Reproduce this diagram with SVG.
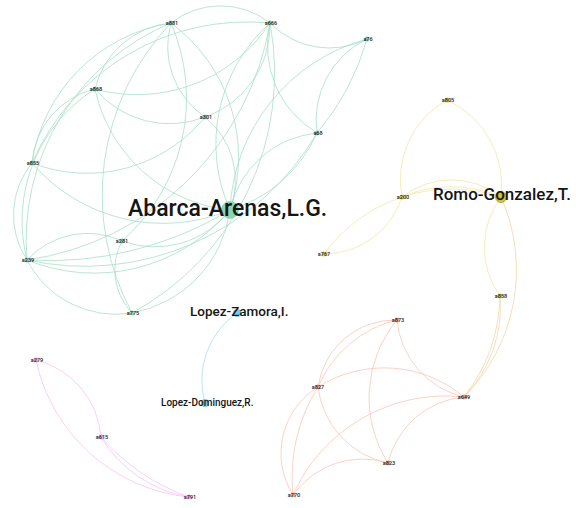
<svg xmlns="http://www.w3.org/2000/svg" width="576" height="508" viewBox="0 0 576 508">
<style>
.e{fill:none;stroke-width:0.8}
.g{stroke:#a9dec9}
.y{stroke:#f3e6ab}
.yo{stroke:#f6d6a8}
.o{stroke:#fac6b6}
.p{stroke:#f8c4f1}
.c{stroke:#a8dcf2}
.sl{font-family:Roboto,"Liberation Sans",sans-serif;font-size:5.5px;fill:#222;text-anchor:middle;font-weight:500}
.bl{font-family:Roboto,"Liberation Sans",sans-serif;fill:#151515;font-weight:500}
.ng{fill:#8fd6b4}
.ny{fill:#d8d044}
.no{fill:#f4a486}
.np{fill:#f0a4e6}
.nc{fill:#7cc8ea}
</style>
<rect width="576" height="508" fill="#fff"/>
<g id="connectors">
<!-- green cluster -->
<path class="e g" d="M171 23 A167 167 0 0 1 230 210"/>
<path class="e g" d="M270 23 A162 162 0 0 0 230 210"/>
<path class="e g" d="M367 39 A186 186 0 0 0 230 210"/>
<path class="e g" d="M95 89 A154 154 0 0 0 230 210"/>
<path class="e g" d="M205 117 A82 82 0 0 1 230 210"/>
<path class="e g" d="M317 133 A99 99 0 0 0 230 210"/>
<path class="e g" d="M317 133 A140 140 0 0 1 230 210"/>
<path class="e g" d="M32 163 A173 173 0 0 0 230 210"/>
<path class="e g" d="M122 241 A95 95 0 0 0 230 210"/>
<path class="e g" d="M27 260 A178 178 0 0 0 230 210"/>
<path class="e g" d="M27 260 A350 350 0 0 0 230 210"/>
<path class="e g" d="M132 313 A121 121 0 0 0 230 210"/>
<path class="e g" d="M171 23 A80 80 0 0 1 270 23"/>
<path class="e g" d="M270 23 A83 83 0 0 0 367 39"/>
<path class="e g" d="M270 23 A102 102 0 0 0 317 133"/>
<path class="e g" d="M367 39 A90 90 0 0 0 317 133"/>
<path class="e g" d="M367 39 A250 250 0 0 1 317 133"/>
<path class="e g" d="M95 89 A159 159 0 0 0 270 23"/>
<path class="e g" d="M95 89 A97 97 0 0 0 205 117"/>
<path class="e g" d="M95 89 A86 86 0 0 1 171 23"/>
<path class="e g" d="M32 163 A235 235 0 0 1 270 23"/>
<path class="e g" d="M32 163 A167 167 0 0 1 171 23"/>
<path class="e g" d="M32 163 A152 152 0 0 0 205 117"/>
<path class="e g" d="M27 260 A235 235 0 0 1 171 23"/>
<path class="e g" d="M27 260 A288 288 0 0 0 270 23"/>
<path class="e g" d="M27 260 A82 82 0 0 1 122 241"/>
<path class="e g" d="M27 260 A100 100 0 0 0 132 313"/>
<path class="e g" d="M32 163 A82 82 0 0 0 27 260"/>
<path class="e g" d="M95 89 A156 156 0 0 0 27 260"/>
<path class="e g" d="M171 23 A85 85 0 0 0 205 117"/>
<path class="e g" d="M171 23 A190 190 0 0 1 122 241"/>
<path class="e g" d="M171 23 A249 249 0 0 0 132 313"/>
<path class="e g" d="M205 117 A97 97 0 0 0 270 23"/>
<path class="e g" d="M32 163 A82 82 0 0 1 95 89"/>
<path class="e g" d="M122 241 A62 62 0 0 0 132 313"/>
<path class="e g" d="M317 133 A269 269 0 0 1 27 260"/>
<path class="e g" d="M270 23 A273 273 0 0 1 132 313"/>
<!-- yellow cluster -->
<path class="e y" d="M447 100 A91 91 0 0 0 402 197"/>
<path class="e y" d="M447 100 A94 94 0 0 1 501 197"/>
<path class="e y" d="M402 197 A80 80 0 0 1 501 197"/>
<path class="e y" d="M402 197 A125 125 0 0 1 501 197"/>
<path class="e y" d="M324 254 A82 82 0 0 0 402 197"/>
<path class="e y" d="M324 254 A158 158 0 0 1 501 197"/>
<path class="e y" d="M501 197 A84 84 0 0 0 500 296"/>
<path class="e yo" d="M501 197 A180 180 0 0 1 464 397"/>
<path class="e yo" d="M500 296 A130 130 0 0 1 464 397"/>
<path class="e yo" d="M500 296 A170 170 0 0 1 464 397"/>
<!-- orange cluster -->
<path class="e o" d="M397 320 A78 78 0 0 0 318 387"/>
<path class="e o" d="M397 320 A115 115 0 0 0 318 387"/>
<path class="e o" d="M397 320 A87 87 0 0 0 464 397"/>
<path class="e o" d="M397 320 A122 122 0 0 0 388 463"/>
<path class="e o" d="M318 387 A124 124 0 0 1 464 397"/>
<path class="e o" d="M318 387 A88 88 0 0 0 388 463"/>
<path class="e o" d="M318 387 A78 78 0 0 0 293 495"/>
<path class="e o" d="M318 387 A170 170 0 0 0 293 495"/>
<path class="e o" d="M293 495 A167 167 0 0 1 464 397"/>
<path class="e o" d="M293 495 A85 85 0 0 1 388 463"/>
<path class="e o" d="M388 463 A86 86 0 0 1 464 397"/>
<!-- pink cluster -->
<path class="e p" d="M36 360 A86 86 0 0 1 101 437"/>
<path class="e p" d="M36 360 A174 174 0 0 0 189 497"/>
<path class="e p" d="M101 437 A127 127 0 0 0 189 497"/>
<path class="e p" d="M101 437 A210 210 0 0 0 189 497"/>
<!-- cyan -->
<path class="e c" d="M237 313 A82 82 0 0 0 205 403"/>
</g>
<g id="n-a881"><circle class="ng" cx="171" cy="23" r="2.5"/><text class="sl" x="172" y="25">a881</text></g>
<g id="n-a666"><circle class="ng" cx="270" cy="23" r="2.5"/><text class="sl" x="271" y="25">a666</text></g>
<g id="n-a76"><circle class="ng" cx="367" cy="39" r="2.5"/><text class="sl" x="368" y="41">a76</text></g>
<g id="n-a868"><circle class="ng" cx="95" cy="89" r="2.5"/><text class="sl" x="96" y="91">a868</text></g>
<g id="n-a301"><circle class="ng" cx="205" cy="117" r="2.5"/><text class="sl" x="206" y="119">a301</text></g>
<g id="n-a68"><circle class="ng" cx="317" cy="133" r="2.5"/><text class="sl" x="318" y="135">a68</text></g>
<g id="n-a855"><circle class="ng" cx="32" cy="163" r="2.5"/><text class="sl" x="33" y="165">a855</text></g>
<g id="n-a281"><circle class="ng" cx="122" cy="241" r="2.5"/><text class="sl" x="122" y="243">a281</text></g>
<g id="n-a239"><circle class="ng" cx="27" cy="260" r="2.5"/><text class="sl" x="28" y="262">a239</text></g>
<g id="n-a775"><circle class="ng" cx="132" cy="313" r="2.5"/><text class="sl" x="133" y="315">a775</text></g>
<g id="n-abarca"><circle cx="230" cy="210" r="8.5" fill="#8dd3b0" stroke="#7cc6a2" stroke-width="0.6"/><text class="bl" x="128" y="216" font-size="23">Abarca-Arenas,L.G.</text></g>
<g id="n-a805"><circle class="ny" cx="447" cy="100" r="2.5"/><text class="sl" x="448" y="102">a805</text></g>
<g id="n-a200"><circle class="ny" cx="402" cy="197" r="2.5"/><text class="sl" x="403" y="199">a200</text></g>
<g id="n-romo"><circle cx="501" cy="197" r="5.5" fill="#cdc43c" stroke="#aaa22e" stroke-width="0.8"/><text class="bl" x="433" y="200" font-size="17">Romo-Gonzalez,T.</text></g>
<g id="n-a767"><circle class="ny" cx="324" cy="254" r="2.5"/><text class="sl" x="324" y="256">a767</text></g>
<g id="n-a858"><circle class="ny" cx="500" cy="296" r="2.5"/><text class="sl" x="501" y="298">a858</text></g>
<g id="n-lzamora"><circle class="nc" cx="237" cy="313" r="4"/><text class="bl" x="190" y="315.5" font-size="13.5">Lopez-Zamora,I.</text></g>
<g id="n-ldominguez"><circle class="nc" cx="205" cy="403" r="4"/><text class="bl" x="161" y="405.5" font-size="10">Lopez-Dominguez,R.</text></g>
<g id="n-a873"><circle class="no" cx="397" cy="320" r="2.5"/><text class="sl" x="398" y="322">a873</text></g>
<g id="n-a827"><circle class="no" cx="318" cy="387" r="2.5"/><text class="sl" x="318" y="389">a827</text></g>
<g id="n-a649"><circle class="no" cx="464" cy="397" r="2.5"/><text class="sl" x="464" y="399">a649</text></g>
<g id="n-a823"><circle class="no" cx="388" cy="463" r="2.5"/><text class="sl" x="389" y="465">a823</text></g>
<g id="n-a770"><circle class="no" cx="293" cy="495" r="2.5"/><text class="sl" x="294" y="497">a770</text></g>
<g id="n-a279"><circle class="np" cx="36" cy="360" r="2.5"/><text class="sl" x="37" y="362">a279</text></g>
<g id="n-a615"><circle class="np" cx="101" cy="437" r="2.5"/><text class="sl" x="102" y="439">a615</text></g>
<g id="n-a791"><circle class="np" cx="189" cy="497" r="2.5"/><text class="sl" x="190" y="499">a791</text></g>
</svg>
